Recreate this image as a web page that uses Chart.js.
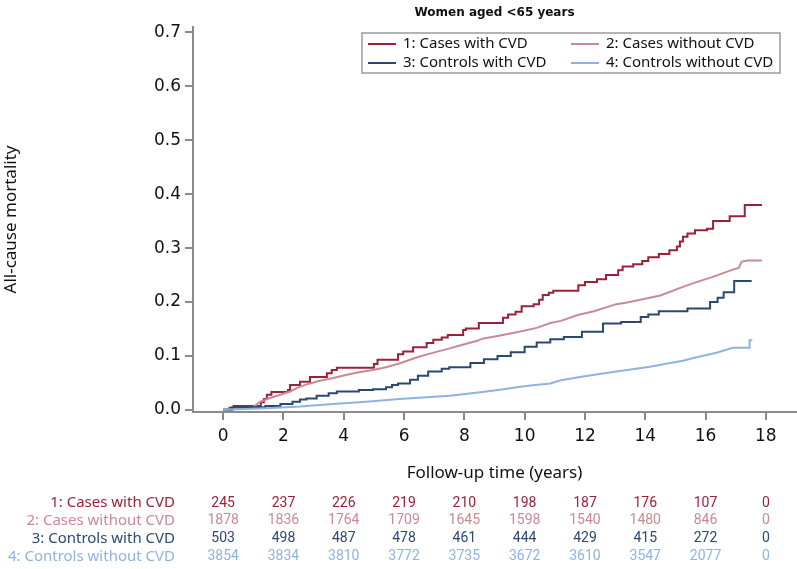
<!DOCTYPE html>
<html>
<head>
<meta charset="utf-8">
<script src="https://cdn.jsdelivr.net/npm/chart.js@4.4.1/dist/chart.umd.min.js"></script>
<style>
html, body { margin: 0; padding: 0; background: #fff; }
</style>
</head>
<body>
<canvas id="kmChart" width="797" height="569"></canvas>
<script>
// cumulative mortality: time (years) and value
var casesCvdT = [0, 0.21, 0.35, 1.25, 1.35, 1.45, 1.6, 2.15, 2.22, 2.55, 2.88, 3.44, 3.6, 3.77, 5.0, 5.12, 5.8, 5.97, 6.3, 6.75, 6.97, 7.25, 7.45, 7.96, 8.05, 8.48, 9.28, 9.45, 9.7, 9.9, 10.3, 10.48, 10.6, 10.8, 10.95, 11.78, 12.0, 12.4, 12.7, 13.1, 13.25, 13.6, 13.9, 14.1, 14.45, 14.8, 15.05, 15.15, 15.25, 15.4, 15.65, 16.05, 16.25, 16.8, 17.3, 17.87];
var casesCvdV = [0, 0.004, 0.007, 0.014, 0.02, 0.028, 0.033, 0.037, 0.046, 0.052, 0.061, 0.068, 0.074, 0.078, 0.085, 0.093, 0.103, 0.108, 0.116, 0.124, 0.13, 0.134, 0.139, 0.148, 0.151, 0.161, 0.171, 0.177, 0.182, 0.192, 0.196, 0.204, 0.213, 0.217, 0.221, 0.231, 0.237, 0.242, 0.25, 0.259, 0.266, 0.27, 0.276, 0.283, 0.289, 0.296, 0.303, 0.312, 0.321, 0.327, 0.333, 0.336, 0.35, 0.359, 0.38, 0.38];

var casesNoT = [0, 0.5, 1.0, 1.23, 1.56, 1.9, 2.22, 2.55, 2.88, 3.2, 3.65, 4.1, 4.55, 4.97, 5.4, 5.84, 6.46, 7.1, 7.52, 7.76, 8.43, 8.6, 9.1, 9.74, 10.4, 10.85, 11.2, 11.76, 12.3, 13.04, 13.4, 14.15, 14.5, 15.25, 15.6, 16.36, 16.9, 17.1, 17.2, 17.4, 17.87];
var casesNoV = [0, 0.002, 0.005, 0.015, 0.022, 0.028, 0.034, 0.043, 0.049, 0.054, 0.059, 0.065, 0.07, 0.074, 0.079, 0.086, 0.098, 0.108, 0.114, 0.118, 0.128, 0.132, 0.137, 0.144, 0.152, 0.161, 0.165, 0.176, 0.183, 0.196, 0.199, 0.208, 0.212, 0.228, 0.235, 0.249, 0.26, 0.263, 0.275, 0.277, 0.277];

var controlsCvdT = [0, 0.3, 1.4, 1.9, 2.3, 2.55, 2.76, 3.1, 3.5, 3.77, 4.5, 4.97, 5.4, 5.6, 5.8, 6.2, 6.46, 6.8, 7.25, 7.5, 8.2, 8.65, 9.1, 9.54, 10.0, 10.4, 10.85, 11.3, 11.9, 12.6, 13.2, 13.85, 14.1, 14.45, 15.4, 16.15, 16.4, 16.6, 16.95, 17.53];
var controlsCvdV = [0, 0.005, 0.007, 0.011, 0.015, 0.019, 0.021, 0.026, 0.031, 0.034, 0.037, 0.038, 0.042, 0.046, 0.049, 0.056, 0.063, 0.071, 0.076, 0.079, 0.087, 0.094, 0.1, 0.107, 0.117, 0.125, 0.131, 0.135, 0.145, 0.16, 0.163, 0.172, 0.177, 0.183, 0.188, 0.2, 0.208, 0.218, 0.239, 0.239];

var controlsNoT = [0, 1.44, 2.55, 3.65, 4.75, 5.84, 7.52, 8.6, 9.3, 9.74, 10.2, 10.85, 11.2, 11.94, 13.04, 13.4, 14.15, 15.25, 15.6, 16.36, 16.9, 17.45, 17.46, 17.55];
var controlsNoV = [0, 0.003, 0.006, 0.011, 0.015, 0.02, 0.026, 0.033, 0.038, 0.042, 0.045, 0.049, 0.055, 0.062, 0.071, 0.074, 0.08, 0.091, 0.096, 0.106, 0.115, 0.115, 0.129, 0.129];

var groupNames = ['1: Cases with CVD', '2: Cases without CVD', '3: Controls with CVD', '4: Controls without CVD'];
var groupColors = ['#9c2038', '#c88a94', '#2b4873', '#8fb3df'];

var xTicks = [0, 2, 4, 6, 8, 10, 12, 14, 16, 18];
var yTicks = [0, 0.1, 0.2, 0.3, 0.4, 0.5, 0.6, 0.7];

// numbers at risk at each x tick
var atRisk1 = [245, 237, 226, 219, 210, 198, 187, 176, 107, 0];
var atRisk2 = [1878, 1836, 1764, 1709, 1645, 1598, 1540, 1480, 846, 0];
var atRisk3 = [503, 498, 487, 478, 461, 444, 429, 415, 272, 0];
var atRisk4 = [3854, 3834, 3810, 3772, 3735, 3672, 3610, 3547, 2077, 0];

function toPoints(ts, vs) {
    return ts.map(function (t, i) { return { x: t, y: vs[i] }; });
}

var tickFont = { family: 'DejaVu Sans', size: 17 };
var axisColor = '#8a8a8a';

var extras = {
    id: 'extras',
    afterDraw: function (chart) {
        var ctx = chart.ctx;
        var area = chart.chartArea;
        var xs = chart.scales.x;
        ctx.save();

        // title
        ctx.fillStyle = '#111';
        ctx.font = 'bold 12px "DejaVu Sans"';
        ctx.textAlign = 'center';
        ctx.textBaseline = 'middle';
        ctx.fillText('Women aged <65 years', (area.left + area.right) / 2, 13);

        // legend box
        ctx.strokeStyle = '#9a9a9a';
        ctx.lineWidth = 1.5;
        ctx.fillStyle = '#fff';
        ctx.fillRect(362, 33, 418, 40);
        ctx.strokeRect(362, 33, 418, 40);
        ctx.font = '15px "Noto Sans"';
        ctx.textAlign = 'left';
        var cols = [368, 571];
        var rowsY = [44, 63];
        [0, 1, 2, 3].forEach(function (g, k) {
            var cx = cols[k % 2], cy = rowsY[Math.floor(k / 2)];
            ctx.strokeStyle = groupColors[g];
            ctx.lineWidth = 2;
            ctx.beginPath();
            ctx.moveTo(cx, cy);
            ctx.lineTo(cx + 28, cy);
            ctx.stroke();
            ctx.fillStyle = '#111';
            ctx.fillText(groupNames[g], cx + 35, cy);
        });

        // numbers at risk
        var table = [atRisk1, atRisk2, atRisk3, atRisk4];
        table.forEach(function (row, i) {
            var y = 503 + i * 17.8;
            ctx.fillStyle = groupColors[i];
            ctx.textAlign = 'right';
            ctx.font = '15px "Noto Sans"';
            ctx.fillText(groupNames[i], 175, y);
            ctx.textAlign = 'center';
            ctx.font = '14px Roboto';
            row.forEach(function (n, j) {
                ctx.fillText(String(n), xs.getPixelForValue(xTicks[j]), y);
            });
        });
        ctx.restore();
    }
};

function makeSet(i, ts, vs, stepped) {
    return {
        label: groupNames[i],
        data: toPoints(ts, vs),
        borderColor: groupColors[i],
        backgroundColor: groupColors[i],
        borderWidth: 2,
        pointRadius: 0,
        stepped: stepped,
        tension: 0,
        fill: false
    };
}

var chart = new Chart(document.getElementById('kmChart').getContext('2d'), {
    type: 'line',
    data: {
        datasets: [
            makeSet(3, controlsNoT, controlsNoV, false),
            makeSet(2, controlsCvdT, controlsCvdV, true),
            makeSet(1, casesNoT, casesNoV, false),
            makeSet(0, casesCvdT, casesCvdV, true)
        ]
    },
    options: {
        responsive: false,
        animation: false,
        layout: { padding: { left: 0, right: 1, top: 27, bottom: 86 } },
        plugins: {
            legend: { display: false },
            tooltip: { enabled: false }
        },
        scales: {
            x: {
                type: 'linear',
                min: -1,
                max: 19,
                afterFit: function (s) { s.height = 71; },
                afterBuildTicks: function (s) { s.ticks = xTicks.map(function (v) { return { value: v }; }); },
                ticks: { font: tickFont, color: '#111', padding: 6, maxRotation: 0, autoSkip: false },
                grid: { drawOnChartArea: false, drawTicks: true, tickLength: 8, color: axisColor, lineWidth: 2 },
                border: { color: axisColor, width: 2 },
                title: {
                    display: true,
                    text: 'Follow-up time (years)',
                    color: '#111',
                    font: { family: 'Noto Sans', size: 17 },
                    padding: { top: 0, bottom: 0 }
                }
            },
            y: {
                type: 'linear',
                min: -0.004,
                max: 0.71,
                afterFit: function (s) { s.width = 193; },
                afterBuildTicks: function (s) { s.ticks = yTicks.map(function (v) { return { value: v }; }); },
                ticks: {
                    font: tickFont,
                    color: '#111',
                    padding: 4,
                    callback: function (v) { return v.toFixed(1); }
                },
                grid: { drawOnChartArea: false, drawTicks: true, tickLength: 8, color: axisColor, lineWidth: 2 },
                border: { color: axisColor, width: 2 },
                title: {
                    display: true,
                    text: 'All-cause mortality',
                    color: '#111',
                    font: { family: 'Noto Sans', size: 17 },
                    padding: { top: 1, bottom: 0 }
                }
            }
        }
    },
    plugins: [extras]
});
</script>
</body>
</html>
